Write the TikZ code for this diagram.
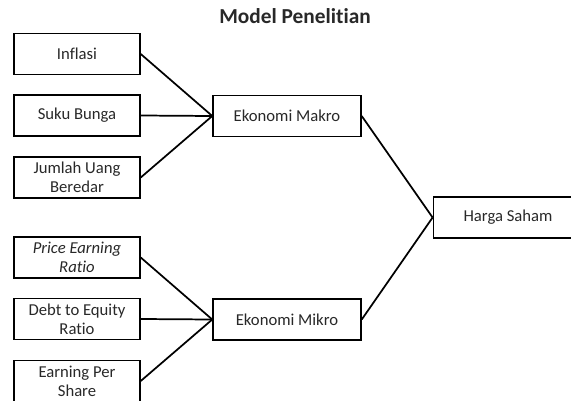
\documentclass[tikz,border=0pt]{standalone}
\usepackage{fontspec}
\setmainfont{Carlito}[Ligatures={NoCommon}]
\usepackage{tikz}
\usetikzlibrary{positioning}
\definecolor{textcolor}{RGB}{40,40,40}

\begin{document}
\begin{tikzpicture}[
    x=0.75pt, y=-0.75pt,
    box/.style={draw, line width=1.1pt, minimum width=94.5pt, minimum height=30.75pt, inner sep=1pt, align=center, text=textcolor, font=\fontsize{12.5}{14.5}\selectfont},
    midbox/.style={box, minimum width=111pt},
    link/.style={line width=1.3pt},
    title/.style={font=\fontsize{16}{18}\selectfont\bfseries, text=textcolor},
]
    \useasboundingbox (0,0) rectangle (571,400);

    \node[title] (judul) at (295,16) {Model Penelitian};

    % makro
    \node[box] (inflasi) at (77,54) {Inflasi};
    \node[box] (suku) at (77,115.5) {Suku Bunga};
    \node[box] (jub) at (77,177.5) {Jumlah Uang\\Beredar};
    \node[midbox] (makro) at (287,116) {Ekonomi Makro};

    % mikro
    \node[box] (per) at (77,257.5) {\itshape Price Earning\\\itshape Ratio};
    \node[box] (der) at (77,319) {Debt to Equity\\Ratio};
    \node[box] (eps) at (77,381) {Earning Per\\Share};
    \node[midbox] (mikro) at (287,319.5) {Ekonomi Mikro};

    \node[box, minimum width=112pt] (harga) at (508,217.5) {Harga Saham};

    \draw[link] (inflasi.east) -- (makro.west);
    \draw[link] (suku.east) -- (makro.west);
    \draw[link] (jub.east) -- (makro.west);
    \draw[link] (per.east) -- (mikro.west);
    \draw[link] (der.east) -- (mikro.west);
    \draw[link] (eps.east) -- (mikro.west);
    \draw[link] (makro.east) -- (harga.west);
    \draw[link] (mikro.east) -- (harga.west);
\end{tikzpicture}
\end{document}
